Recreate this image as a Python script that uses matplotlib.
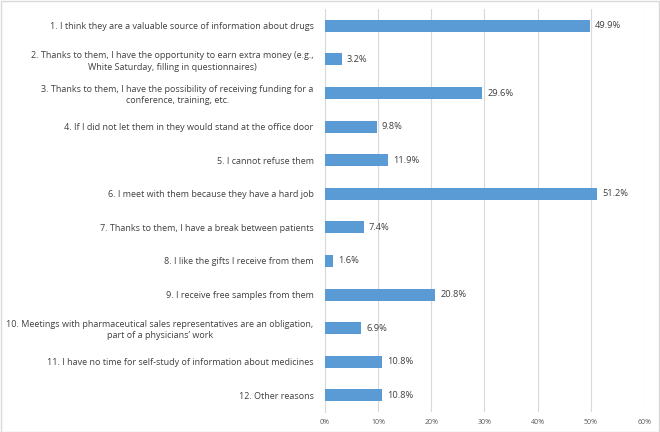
import matplotlib
matplotlib.use("Agg")
import matplotlib.pyplot as plt
from matplotlib.patches import Rectangle

categories = [
    "1. I think they are a valuable source of information about drugs",
    "2. Thanks to them, I have the opportunity to earn extra money (e.g.,\nWhite Saturday, filling in questionnaires)",
    "3. Thanks to them, I have the possibility of receiving funding for a\nconference, training, etc.",
    "4. If I did not let them in they would stand at the office door",
    "5. I cannot refuse them",
    "6. I meet with them because they have a hard job",
    "7. Thanks to them, I have a break between patients",
    "8. I like the gifts I receive from them",
    "9. I receive free samples from them",
    "10. Meetings with pharmaceutical sales representatives are an obligation,\npart of a physicians\u2019 work",
    "11. I have no time for self-study of information about medicines",
    "12. Other reasons",
]
values = [49.9, 3.2, 29.6, 9.8, 11.9, 51.2, 7.4, 1.6, 20.8, 6.9, 10.8, 10.8]
xticks = [0, 10, 20, 30, 40, 50, 60]
xticklabels = [f"{t}%" for t in xticks]

plt.rcParams['font.family'] = ['Open Sans', 'DejaVu Sans']

fig = plt.figure(figsize=(6.6, 4.32), dpi=100)
ax = fig.add_axes([0.492, 0.046, 0.484, 0.933])

ypos = list(range(len(categories)))
ax.barh(ypos, values, height=0.36, color="#5B9BD5", zorder=3)
ax.set_ylim(len(categories) - 0.5, -0.5)
ax.set_xlim(0, 60)
ax.set_xticks(xticks)
ax.set_xticklabels(xticklabels, fontsize=5, color="#595959")
ax.set_yticks(ypos)
ax.set_yticklabels(categories, fontsize=6.5, color="#404040", multialignment="center",
                   linespacing=1.3)
ax.tick_params(axis="both", length=0)
ax.tick_params(axis="y", pad=8)
ax.tick_params(axis="x", pad=5)
ax.grid(axis="x", color="#D9D9D9", linewidth=0.8, zorder=0)
for s in ["top", "right", "bottom"]:
    ax.spines[s].set_visible(False)
ax.spines["left"].set_color("#D9D9D9")
ax.spines["left"].set_linewidth(0.8)

for y, v in zip(ypos, values):
    ax.text(v + 0.9, y, f"{v}%", va="center", ha="left", fontsize=6.7, color="#404040")

fig.patches.append(Rectangle((0.001, 0.001), 0.997, 0.997, transform=fig.transFigure,
                             fill=False, edgecolor="#D9D9D9", linewidth=1))

fig.savefig("out.png", dpi=100)
